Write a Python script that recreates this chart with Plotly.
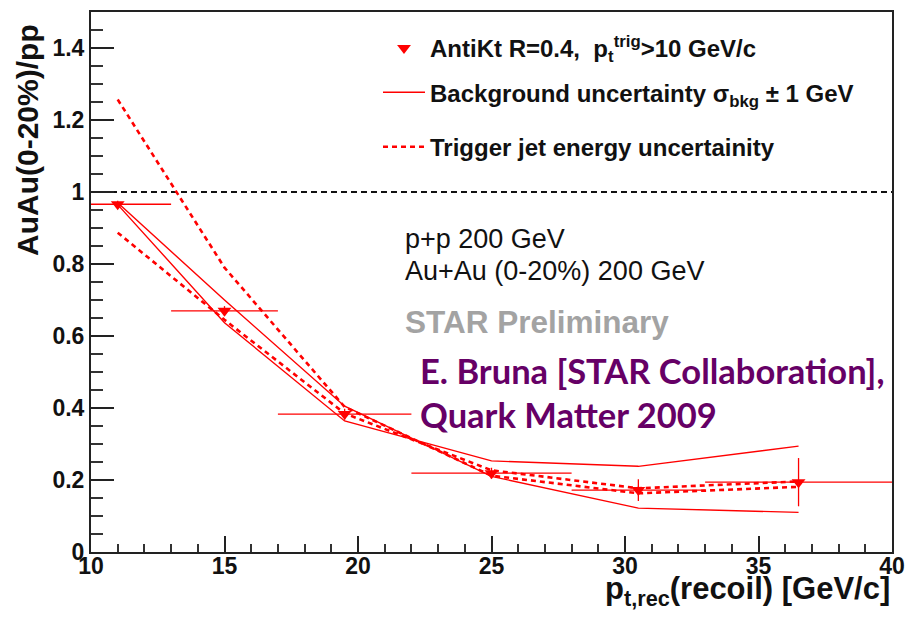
import plotly.graph_objects as go

# Recoil jet yield ratio AuAu(0-20%)/pp versus recoil jet pT
pt_rec = [11.0, 15.0, 19.5, 25.0, 30.5, 36.5]
bin_half_width = [2.0, 2.0, 2.5, 3.0, 2.5, 3.5]
ratio = [0.966, 0.670, 0.383, 0.219, 0.172, 0.194]
ratio_err = [0.010, 0.013, 0.015, 0.015, 0.030, 0.067]

# Background fluctuation systematic (sigma_bkg +/- 1 GeV)
bkg_shift_a = [0.970, 0.700, 0.405, 0.210, 0.122, 0.110]
bkg_shift_b = [0.965, 0.637, 0.364, 0.253, 0.238, 0.294]

# Trigger jet energy scale systematic
trig_shift_a = [1.257, 0.790, 0.403, 0.212, 0.163, 0.181]
trig_shift_b = [0.887, 0.645, 0.385, 0.227, 0.177, 0.196]

x_range = [10, 40]
y_range = [0, 1.5]
unity = [1.0, 1.0]

W, H = 923, 618
L, R, T, B = 91, 892, 10, 552
RED = "#ff0000"


def px(xpix):
    return (xpix - L) / (R - L)


def py(ypix):
    return (B - ypix) / (B - T)


fig = go.Figure()

# reference line at ratio = 1
fig.add_trace(go.Scatter(x=x_range, y=unity, mode="lines", showlegend=False,
                         line=dict(color="#111111", width=2, dash="6px,4px"),
                         hoverinfo="skip"))

for i, ys in enumerate([trig_shift_a, trig_shift_b]):
    fig.add_trace(go.Scatter(
        x=pt_rec, y=ys, mode="lines",
        name="Trigger jet energy uncertainity",
        showlegend=(i == 0), legendgroup="trig", legend="legend2",
        line=dict(color=RED, width=2.6, dash="5px,4px")))

for i, ys in enumerate([bkg_shift_a, bkg_shift_b]):
    fig.add_trace(go.Scatter(
        x=pt_rec, y=ys, mode="lines",
        name="Background uncertainty σ<sub>bkg</sub> ± 1 GeV",
        showlegend=(i == 0), legendgroup="bkg", legendrank=2,
        line=dict(color=RED, width=1.4)))

fig.add_trace(go.Scatter(
    x=pt_rec, y=ratio, mode="markers",
    name="AntiKt R=0.4,  p<sub>t</sub><sup>trig</sup>>10 GeV/c",
    legendgroup="data", legendrank=1,
    marker=dict(symbol="triangle-down", size=12, color=RED),
    error_x=dict(type="data", array=bin_half_width, color=RED, thickness=1.3, width=0),
    error_y=dict(type="data", array=ratio_err, color=RED, thickness=1.3, width=0)))

axis_font = dict(family="Liberation Sans, Arial, sans-serif", size=23, color="#111111",
                 weight="bold")

fig.update_xaxes(range=x_range, showgrid=False, zeroline=False,
                 showline=True, linecolor="#222222", linewidth=2, mirror=True,
                 ticks="inside", ticklen=16, tickwidth=1.6, tickcolor="#222222",
                 tickmode="linear", tick0=10, dtick=5, tickfont=axis_font,
                 ticklabelstandoff=-8,
                 minor=dict(dtick=1, tick0=10, ticks="inside", ticklen=8, tickwidth=1.5,
                            tickcolor="#333333", showgrid=False))
fig.update_yaxes(range=y_range, showgrid=False, zeroline=False,
                 showline=True, linecolor="#222222", linewidth=2, mirror=True,
                 ticks="inside", ticklen=23, tickwidth=1.6, tickcolor="#222222",
                 tickmode="linear", tick0=0, dtick=0.2, tickfont=axis_font,
                 minor=dict(dtick=0.05, tick0=0, ticks="inside", ticklen=12, tickwidth=1.5,
                            tickcolor="#333333", showgrid=False))

annotations = [
    dict(text="AuAu(0-20%)/pp", textangle=-90, x=px(28), y=py(20),
         xanchor="center", yanchor="top",
         font=dict(family="Liberation Sans, Arial", size=30, color="#111111", weight="bold")),
    dict(text="p<sub>t,rec</sub>(recoil) [GeV/c]", x=1.0, y=py(591),
         xanchor="right", yanchor="middle",
         font=dict(family="Liberation Sans, Arial", size=31, color="#111111", weight="bold")),
    dict(text="p+p 200 GeV", x=px(403), y=py(238), xanchor="left", yanchor="middle",
         font=dict(family="Liberation Sans, Arial", size=27, color="#111111")),
    dict(text="Au+Au (0-20%) 200 GeV", x=px(403), y=py(270), xanchor="left", yanchor="middle",
         font=dict(family="Liberation Sans, Arial", size=27, color="#111111")),
    dict(text="STAR Preliminary", x=px(403), y=py(321), xanchor="left", yanchor="middle",
         font=dict(family="Liberation Sans, Arial", size=31.5, color="#a3a3a3", weight="bold")),
    dict(text="E. Bruna [STAR Collaboration],", x=px(418), y=py(370), xanchor="left",
         yanchor="middle",
         font=dict(family="Lato, sans-serif", size=34.5, color="#660066", weight="bold")),
    dict(text="Quark Matter 2009", x=px(418), y=py(414), xanchor="left", yanchor="middle",
         font=dict(family="Lato, sans-serif", size=34.5, color="#660066", weight="bold")),
]
for a in annotations:
    a.update(xref="paper", yref="paper", showarrow=False)

legend_font = dict(family="Liberation Sans, Arial", size=24, color="#111111", weight="bold")

fig.update_layout(
    width=W, height=H,
    margin=dict(l=L, r=W - R, t=T, b=H - B),
    paper_bgcolor="white", plot_bgcolor="white",
    annotations=annotations,
    legend=dict(x=px(378), y=py(24), xanchor="left", yanchor="top",
                bgcolor="rgba(0,0,0,0)", itemwidth=42,
                traceorder="grouped", tracegroupgap=10, font=legend_font),
    legend2=dict(x=px(378), y=py(123), xanchor="left", yanchor="top",
                 bgcolor="rgba(0,0,0,0)", itemwidth=42, font=legend_font),
)

fig.write_html("out.html")
